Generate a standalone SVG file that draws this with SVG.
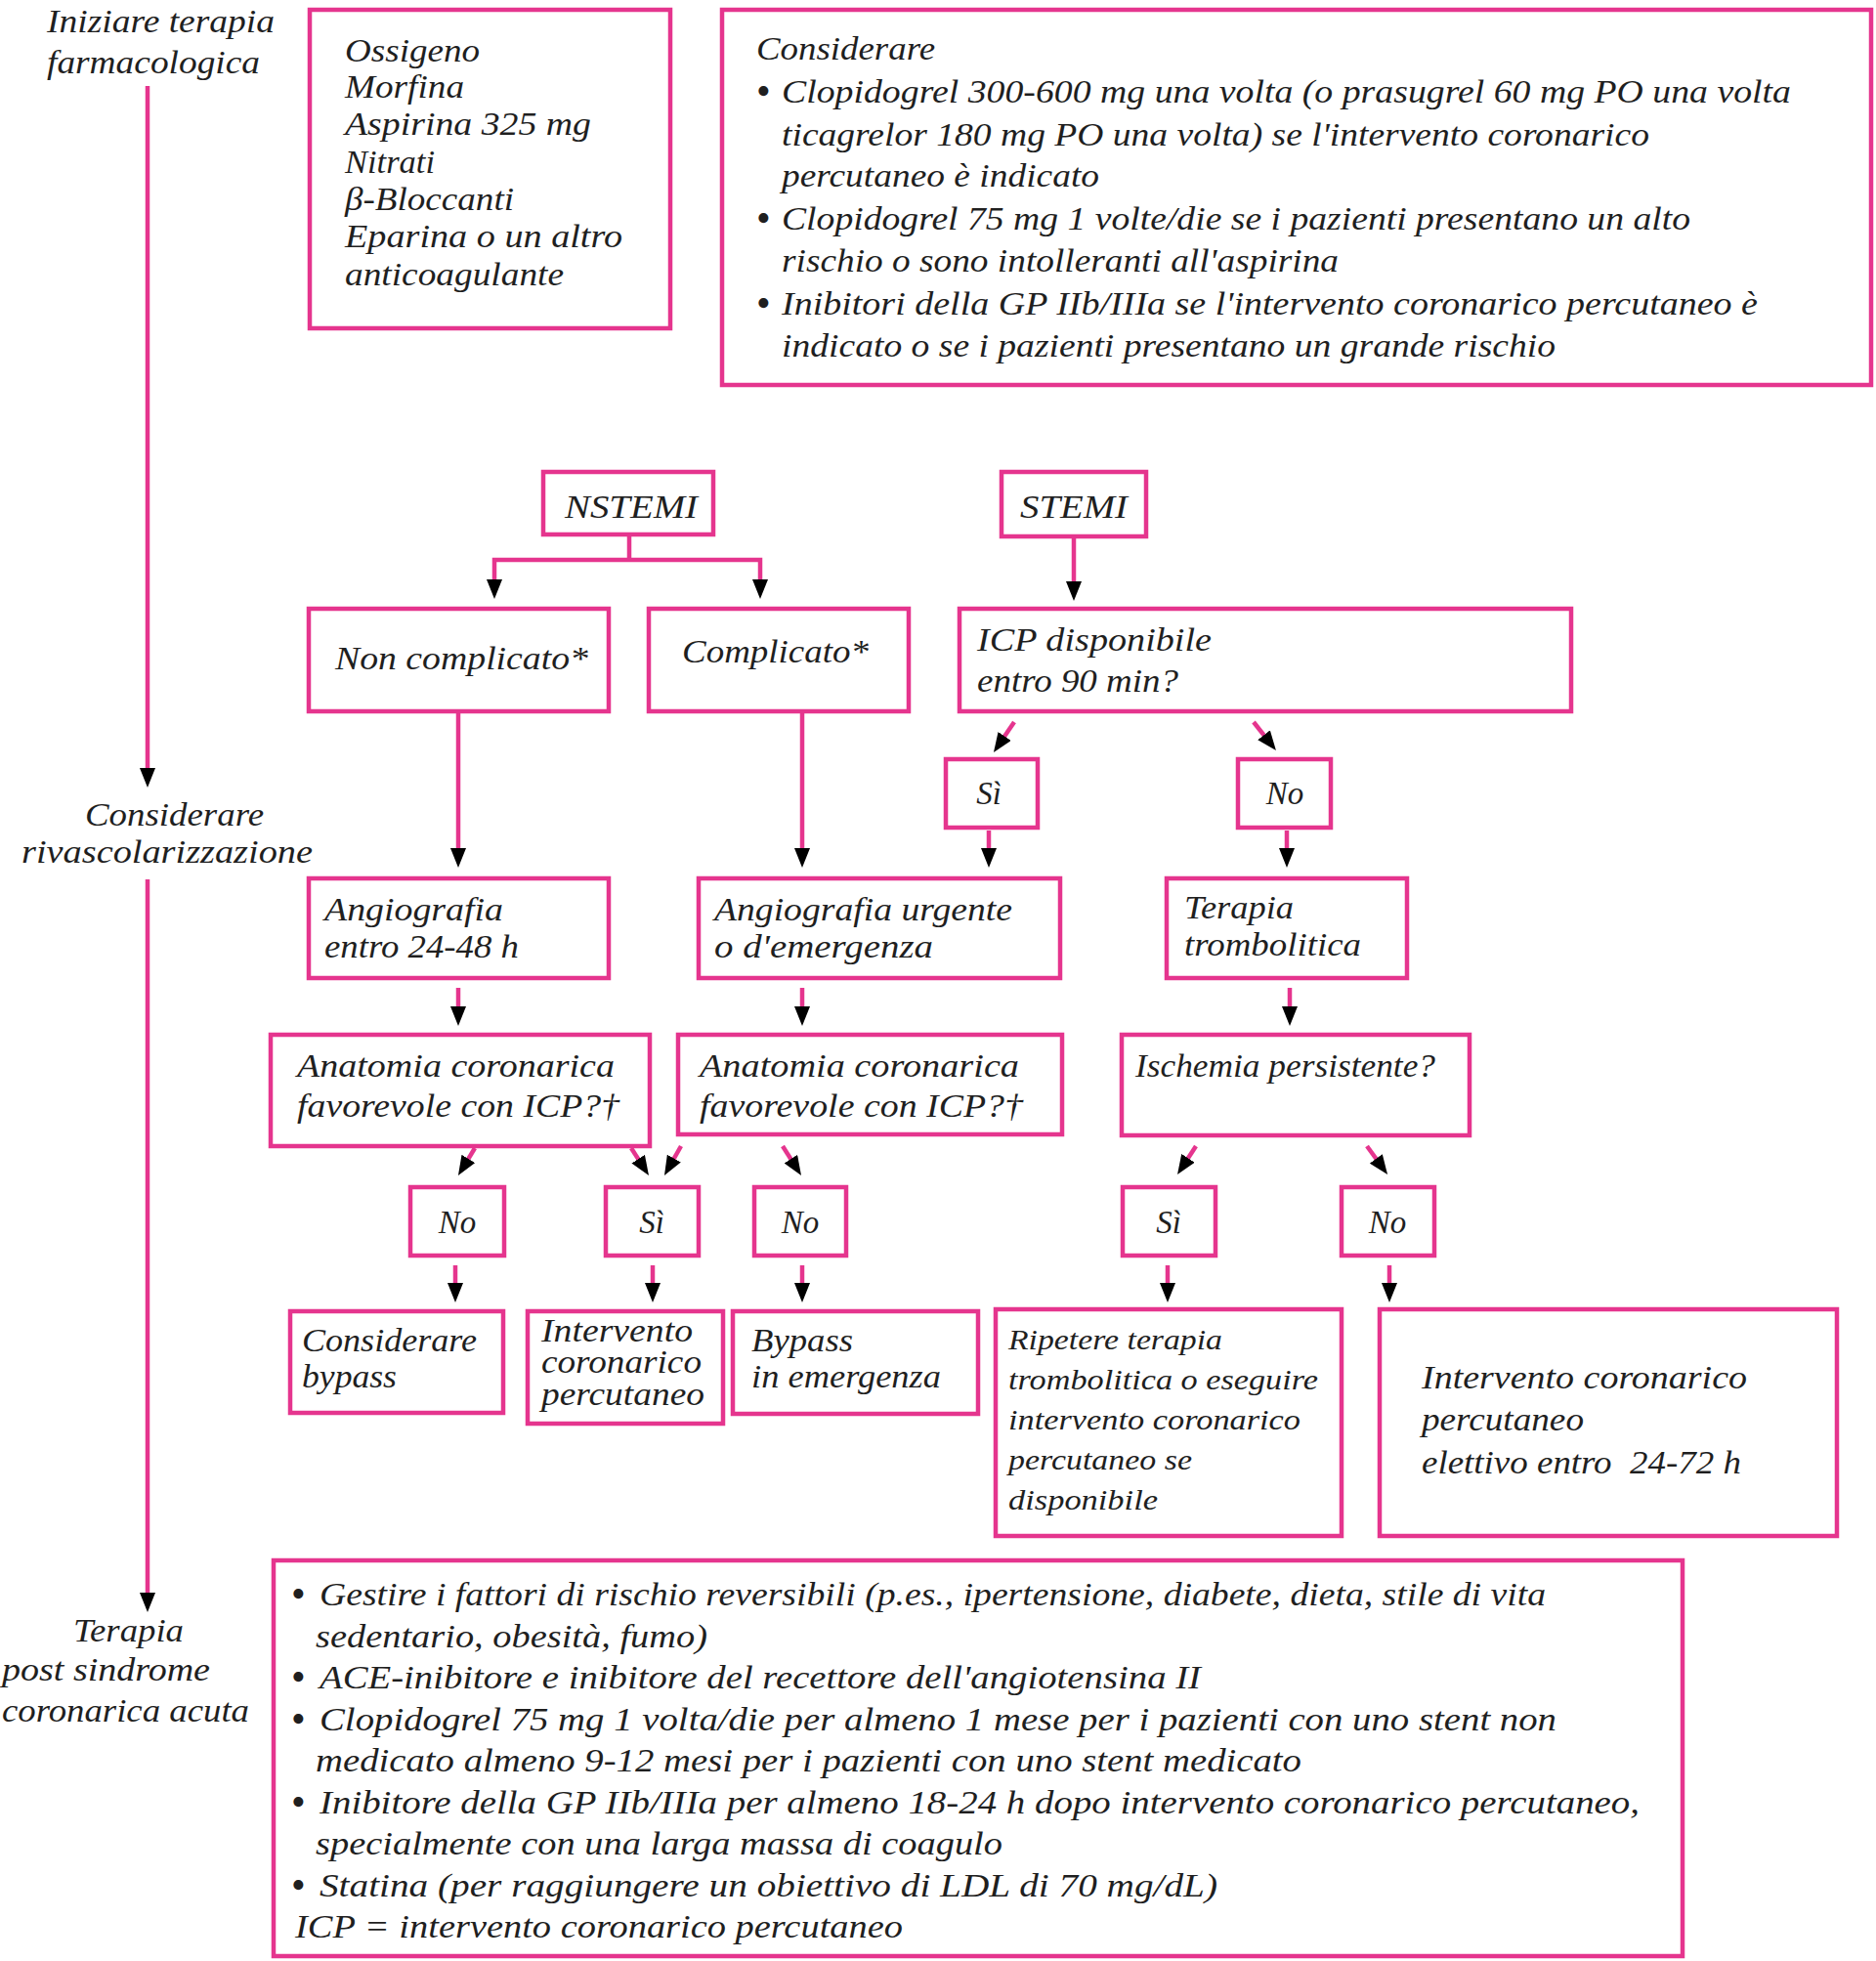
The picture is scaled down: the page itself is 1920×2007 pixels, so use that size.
<svg xmlns="http://www.w3.org/2000/svg" width="1920" height="2007" viewBox="0 0 1920 2007">
<defs>
<style>
.b{fill:#fff;stroke:#E5358E;stroke-width:4.5}
.t{font-family:"Liberation Serif","Times New Roman",serif;font-style:italic;font-size:33px;fill:#1f1f1f}
.s{font-size:30px}
.m{text-anchor:middle}
.u{font-size:42px;font-style:normal}
.c{fill:none;stroke:#E5358E;stroke-width:4.5;marker-end:url(#ah)}
.l{fill:none;stroke:#E5358E;stroke-width:4.5}
</style>
<marker id="ah" viewBox="0 0 20 16" refX="8" refY="8" markerWidth="20" markerHeight="16" markerUnits="userSpaceOnUse" orient="auto"><path d="M0,0 L20,8 L0,16 z" fill="#000"/></marker>
</defs>
<rect width="1920" height="2007" fill="#fff"/>

<g id="connectors">
<path class="c" d="M151,88 V794"/>
<path class="c" d="M151,900 V1638"/>
<path class="l" d="M644,547 V573"/>
<path class="c" d="M644,573 H506 V601"/>
<path class="c" d="M644,573 H778 V601"/>
<path class="c" d="M1099,549 V603"/>
<path class="c" d="M469,728 V876"/>
<path class="c" d="M821,728 V876"/>
<path class="c" d="M1038,739 L1023.7,760.1"/>
<path class="c" d="M1283,739 L1298.5,758.6"/>
<path class="c" d="M1012,850 V876"/>
<path class="c" d="M1317,850 V876"/>
<path class="c" d="M469,1011 V1038"/>
<path class="c" d="M821,1011 V1038"/>
<path class="c" d="M1320,1011 V1038"/>
<path class="c" d="M486,1175 L475.2,1192.8"/>
<path class="c" d="M646,1175 L657.5,1192.9"/>
<path class="c" d="M697,1173 L685.9,1192.6"/>
<path class="c" d="M801,1173 L813.6,1192.9"/>
<path class="c" d="M1224,1173 L1211.6,1192"/>
<path class="c" d="M1399,1173 L1413,1192.3"/>
<path class="c" d="M466,1295 V1321"/>
<path class="c" d="M668,1295 V1321"/>
<path class="c" d="M821,1295 V1321"/>
<path class="c" d="M1195,1295 V1321"/>
<path class="c" d="M1422,1295 V1321"/>
</g>

<g id="label-iniziare">
<text class="t" x="48" y="33" textLength="233" lengthAdjust="spacingAndGlyphs">Iniziare terapia</text>
<text class="t" x="48" y="75" textLength="218" lengthAdjust="spacingAndGlyphs">farmacologica</text>
</g>
<g id="label-considerare">
<text class="t" x="87" y="845" textLength="183" lengthAdjust="spacingAndGlyphs">Considerare</text>
<text class="t" x="22" y="883" textLength="298" lengthAdjust="spacingAndGlyphs">rivascolarizzazione</text>
</g>
<g id="label-terapia">
<text class="t" x="75" y="1680" textLength="113" lengthAdjust="spacingAndGlyphs">Terapia</text>
<text class="t" x="2" y="1720" textLength="213" lengthAdjust="spacingAndGlyphs">post sindrome</text>
<text class="t" x="2" y="1762" textLength="253" lengthAdjust="spacingAndGlyphs">coronarica acuta</text>
</g>

<g id="farmaci">
<rect class="b" x="317" y="10" width="369" height="326"/>
<text class="t" x="353" y="63" textLength="138" lengthAdjust="spacingAndGlyphs">Ossigeno</text>
<text class="t" x="353" y="100" textLength="122" lengthAdjust="spacingAndGlyphs">Morfina</text>
<text class="t" x="353" y="138" textLength="252" lengthAdjust="spacingAndGlyphs">Aspirina 325 mg</text>
<text class="t" x="353" y="177" textLength="92" lengthAdjust="spacingAndGlyphs">Nitrati</text>
<text class="t" x="353" y="215" textLength="173" lengthAdjust="spacingAndGlyphs">β-Bloccanti</text>
<text class="t" x="353" y="253" textLength="284" lengthAdjust="spacingAndGlyphs">Eparina o un altro</text>
<text class="t" x="353" y="292" textLength="224" lengthAdjust="spacingAndGlyphs">anticoagulante</text>
</g>

<g id="considerare-box">
<rect class="b" x="739" y="10" width="1176" height="384"/>
<text class="t" x="774" y="61" textLength="183" lengthAdjust="spacingAndGlyphs">Considerare</text>
<text class="t u" x="774" y="107">•</text>
<text class="t" x="800" y="105" textLength="1033" lengthAdjust="spacingAndGlyphs">Clopidogrel 300-600 mg una volta (o prasugrel 60 mg PO una volta</text>
<text class="t" x="800" y="149" textLength="888" lengthAdjust="spacingAndGlyphs">ticagrelor 180 mg PO una volta) se l'intervento coronarico</text>
<text class="t" x="800" y="191" textLength="325" lengthAdjust="spacingAndGlyphs">percutaneo è indicato</text>
<text class="t u" x="774" y="237">•</text>
<text class="t" x="800" y="235" textLength="930" lengthAdjust="spacingAndGlyphs">Clopidogrel 75 mg 1 volte/die se i pazienti presentano un alto</text>
<text class="t" x="800" y="278" textLength="570" lengthAdjust="spacingAndGlyphs">rischio o sono intolleranti all'aspirina</text>
<text class="t u" x="774" y="324">•</text>
<text class="t" x="800" y="322" textLength="999" lengthAdjust="spacingAndGlyphs">Inibitori della GP IIb/IIIa se l'intervento coronarico percutaneo è</text>
<text class="t" x="800" y="365" textLength="792" lengthAdjust="spacingAndGlyphs">indicato o se i pazienti presentano un grande rischio</text>
</g>

<g id="nstemi">
<rect class="b" x="556" y="483" width="174" height="64"/>
<text class="t" x="578" y="530" textLength="136" lengthAdjust="spacingAndGlyphs">NSTEMI</text>
</g>
<g id="stemi">
<rect class="b" x="1025" y="483" width="148" height="66"/>
<text class="t" x="1044" y="530" textLength="110" lengthAdjust="spacingAndGlyphs">STEMI</text>
</g>

<g id="non-complicato">
<rect class="b" x="316" y="623" width="307" height="105"/>
<text class="t" x="343" y="685" textLength="259" lengthAdjust="spacingAndGlyphs">Non complicato*</text>
</g>
<g id="complicato">
<rect class="b" x="664" y="623" width="266" height="105"/>
<text class="t" x="698" y="678" textLength="191" lengthAdjust="spacingAndGlyphs">Complicato*</text>
</g>
<g id="icp-disponibile">
<rect class="b" x="982" y="623" width="626" height="105"/>
<text class="t" x="1000" y="666" textLength="240" lengthAdjust="spacingAndGlyphs">ICP disponibile</text>
<text class="t" x="1000" y="708" textLength="206" lengthAdjust="spacingAndGlyphs">entro 90 min?</text>
</g>

<g id="si-icp">
<rect class="b" x="968" y="777" width="94" height="70"/>
<text class="t m" x="1012" y="823">Sì</text>
</g>
<g id="no-icp">
<rect class="b" x="1267" y="777" width="95" height="70"/>
<text class="t m" x="1315" y="823">No</text>
</g>

<g id="angiografia-entro">
<rect class="b" x="316" y="899" width="307" height="102"/>
<text class="t" x="332" y="942" textLength="183" lengthAdjust="spacingAndGlyphs">Angiografia</text>
<text class="t" x="332" y="980" textLength="199" lengthAdjust="spacingAndGlyphs">entro 24-48 h</text>
</g>
<g id="angiografia-urgente">
<rect class="b" x="715" y="899" width="370" height="102"/>
<text class="t" x="731" y="942" textLength="305" lengthAdjust="spacingAndGlyphs">Angiografia urgente</text>
<text class="t" x="731" y="980" textLength="224" lengthAdjust="spacingAndGlyphs">o d'emergenza</text>
</g>
<g id="terapia-trombolitica">
<rect class="b" x="1194" y="899" width="246" height="102"/>
<text class="t" x="1212" y="940" textLength="112" lengthAdjust="spacingAndGlyphs">Terapia</text>
<text class="t" x="1212" y="978" textLength="181" lengthAdjust="spacingAndGlyphs">trombolitica</text>
</g>

<g id="anatomia-1">
<rect class="b" x="277" y="1059" width="388" height="114"/>
<text class="t" x="304" y="1102" textLength="325" lengthAdjust="spacingAndGlyphs">Anatomia coronarica</text>
<text class="t" x="304" y="1143" textLength="330" lengthAdjust="spacingAndGlyphs">favorevole con ICP?†</text>
</g>
<g id="anatomia-2">
<rect class="b" x="694" y="1059" width="393" height="102"/>
<text class="t" x="716" y="1102" textLength="327" lengthAdjust="spacingAndGlyphs">Anatomia coronarica</text>
<text class="t" x="716" y="1143" textLength="331" lengthAdjust="spacingAndGlyphs">favorevole con ICP?†</text>
</g>
<g id="ischemia">
<rect class="b" x="1148" y="1059" width="356" height="103"/>
<text class="t" x="1162" y="1102" textLength="307" lengthAdjust="spacingAndGlyphs">Ischemia persistente?</text>
</g>

<g id="no-1">
<rect class="b" x="420" y="1215" width="96" height="70"/>
<text class="t m" x="468" y="1262">No</text>
</g>
<g id="si-1">
<rect class="b" x="620" y="1215" width="95" height="70"/>
<text class="t m" x="667" y="1262">Sì</text>
</g>
<g id="no-2">
<rect class="b" x="772" y="1215" width="94" height="70"/>
<text class="t m" x="819" y="1262">No</text>
</g>
<g id="si-2">
<rect class="b" x="1149" y="1215" width="95" height="70"/>
<text class="t m" x="1196" y="1262">Sì</text>
</g>
<g id="no-3">
<rect class="b" x="1373" y="1215" width="95" height="70"/>
<text class="t m" x="1420" y="1262">No</text>
</g>

<g id="considerare-bypass">
<rect class="b" x="297" y="1342" width="218" height="104"/>
<text class="t" x="309" y="1383" textLength="179" lengthAdjust="spacingAndGlyphs">Considerare</text>
<text class="t" x="309" y="1420" textLength="97" lengthAdjust="spacingAndGlyphs">bypass</text>
</g>
<g id="intervento-percutaneo">
<rect class="b" x="540" y="1342" width="200" height="115"/>
<text class="t" x="554" y="1373" textLength="155" lengthAdjust="spacingAndGlyphs">Intervento</text>
<text class="t" x="554" y="1405" textLength="164" lengthAdjust="spacingAndGlyphs">coronarico</text>
<text class="t" x="554" y="1438" textLength="167" lengthAdjust="spacingAndGlyphs">percutaneo</text>
</g>
<g id="bypass-emergenza">
<rect class="b" x="750" y="1342" width="251" height="105"/>
<text class="t" x="769" y="1383" textLength="104" lengthAdjust="spacingAndGlyphs">Bypass</text>
<text class="t" x="769" y="1420" textLength="194" lengthAdjust="spacingAndGlyphs">in emergenza</text>
</g>
<g id="ripetere">
<rect class="b" x="1019" y="1340" width="354" height="232"/>
<text class="t s" x="1032" y="1381" textLength="219" lengthAdjust="spacingAndGlyphs">Ripetere terapia</text>
<text class="t s" x="1032" y="1422" textLength="317" lengthAdjust="spacingAndGlyphs">trombolitica o eseguire</text>
<text class="t s" x="1032" y="1463" textLength="299" lengthAdjust="spacingAndGlyphs">intervento coronarico</text>
<text class="t s" x="1032" y="1504" textLength="188" lengthAdjust="spacingAndGlyphs">percutaneo se</text>
<text class="t s" x="1032" y="1545" textLength="153" lengthAdjust="spacingAndGlyphs">disponibile</text>
</g>
<g id="elettivo">
<rect class="b" x="1412" y="1340" width="468" height="232"/>
<text class="t" x="1455" y="1421" textLength="333" lengthAdjust="spacingAndGlyphs">Intervento coronarico</text>
<text class="t" x="1455" y="1464" textLength="166" lengthAdjust="spacingAndGlyphs">percutaneo</text>
<text class="t" x="1455" y="1508" textLength="327" lengthAdjust="spacingAndGlyphs" style="white-space:pre">elettivo entro  24-72 h</text>
</g>

<g id="post-sca">
<rect class="b" x="280" y="1597" width="1442" height="405"/>
<text class="t u" x="298" y="1645">•</text>
<text class="t" x="327" y="1643" textLength="1255" lengthAdjust="spacingAndGlyphs">Gestire i fattori di rischio reversibili (p.es., ipertensione, diabete, dieta, stile di vita</text>
<text class="t" x="323" y="1686" textLength="401" lengthAdjust="spacingAndGlyphs">sedentario, obesità, fumo)</text>
<text class="t u" x="298" y="1730">•</text>
<text class="t" x="327" y="1728" textLength="902" lengthAdjust="spacingAndGlyphs">ACE-inibitore e inibitore del recettore dell'angiotensina II</text>
<text class="t u" x="298" y="1773">•</text>
<text class="t" x="327" y="1771" textLength="1266" lengthAdjust="spacingAndGlyphs">Clopidogrel 75 mg 1 volta/die per almeno 1 mese per i pazienti con uno stent non</text>
<text class="t" x="323" y="1813" textLength="1009" lengthAdjust="spacingAndGlyphs">medicato almeno 9-12 mesi per i pazienti con uno stent medicato</text>
<text class="t u" x="298" y="1858">•</text>
<text class="t" x="327" y="1856" textLength="1351" lengthAdjust="spacingAndGlyphs">Inibitore della GP IIb/IIIa per almeno 18-24 h dopo intervento coronarico percutaneo,</text>
<text class="t" x="323" y="1898" textLength="703" lengthAdjust="spacingAndGlyphs">specialmente con una larga massa di coagulo</text>
<text class="t u" x="298" y="1943">•</text>
<text class="t" x="327" y="1941" textLength="919" lengthAdjust="spacingAndGlyphs">Statina (per raggiungere un obiettivo di LDL di 70 mg/dL)</text>
<text class="t" x="302" y="1983" textLength="622" lengthAdjust="spacingAndGlyphs">ICP = intervento coronarico percutaneo</text>
</g>
</svg>
